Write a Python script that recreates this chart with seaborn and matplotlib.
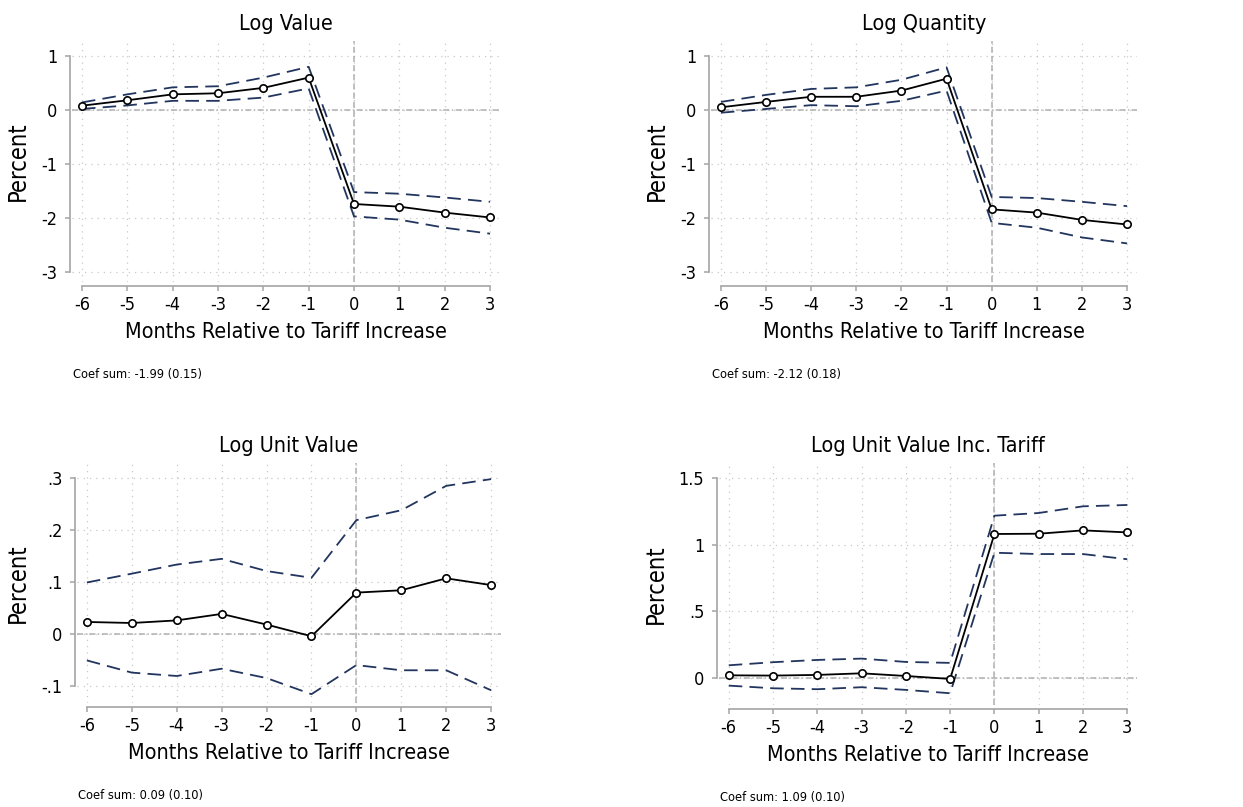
import matplotlib
matplotlib.use("Agg")
import matplotlib.pyplot as plt
import seaborn as sns

# event-study estimates
months = [-6, -5, -4, -3, -2, -1, 0, 1, 2, 3]

value_est = [0.08, 0.18, 0.29, 0.31, 0.41, 0.60, -1.74, -1.79, -1.90, -1.99]
value_hi = [0.14, 0.29, 0.42, 0.44, 0.60, 0.80, -1.52, -1.55, -1.62, -1.70]
value_lo = [0.02, 0.085, 0.17, 0.17, 0.23, 0.40, -1.97, -2.03, -2.18, -2.29]

quantity_est = [0.05, 0.15, 0.245, 0.245, 0.36, 0.58, -1.84, -1.90, -2.035, -2.12]
quantity_hi = [0.15, 0.28, 0.39, 0.42, 0.56, 0.79, -1.61, -1.63, -1.70, -1.78]
quantity_lo = [-0.05, 0.02, 0.09, 0.07, 0.17, 0.36, -2.09, -2.18, -2.36, -2.47]

unitval_est = [0.023, 0.021, 0.026, 0.0385, 0.018, -0.0045, 0.0795, 0.084, 0.107, 0.094]
unitval_hi = [0.099, 0.116, 0.1335, 0.1445, 0.121, 0.108, 0.219, 0.238, 0.285, 0.298]
unitval_lo = [-0.051, -0.0745, -0.081, -0.067, -0.085, -0.116, -0.060, -0.070, -0.070, -0.1085]

tariff_est = [0.022, 0.020, 0.025, 0.037, 0.017, -0.005, 1.079, 1.081, 1.106, 1.091]
tariff_hi = [0.097, 0.120, 0.137, 0.147, 0.122, 0.115, 1.216, 1.236, 1.286, 1.296]
tariff_lo = [-0.055, -0.075, -0.082, -0.067, -0.087, -0.112, 0.939, 0.929, 0.929, 0.890]

titles = ["Log Value", "Log Quantity", "Log Unit Value", "Log Unit Value Inc. Tariff"]
notes = ["Coef sum: -1.99 (0.15)", "Coef sum: -2.12 (0.18)",
         "Coef sum: 0.09 (0.10)", "Coef sum: 1.09 (0.10)"]
big_yticks = [1, 0, -1, -2, -3]
big_ylabels = ["1", "0", "-1", "-2", "-3"]
unit_yticks = [0.3, 0.2, 0.1, 0, -0.1]
unit_ylabels = [".3", ".2", ".1", "0", "-.1"]
tariff_yticks = [1.5, 1, 0.5, 0]
tariff_ylabels = ["1.5", "1", ".5", "0"]

sns.set_theme(style="white")
plt.rcParams["font.family"] = ["DejaVu Sans"]
plt.rcParams["font.stretch"] = "condensed"
plt.rcParams["text.color"] = "black"
plt.rcParams["axes.labelcolor"] = "black"
plt.rcParams["xtick.labelcolor"] = "black"
plt.rcParams["ytick.labelcolor"] = "black"

NAVY = "#22355e"
AXIS_GRAY = "#a4a4a4"
GRID_GRAY = "#c8c8c8"
ZERO_GRAY = "#b0b0b0"

W, H = 1243, 807
fig = plt.figure(figsize=(W / 100, H / 100), dpi=100)


def px_rect(left, right, top, bottom):
    return [left / W, 1 - bottom / H, (right - left) / W, (bottom - top) / H]


panels = [
    (titles[0], value_est, value_hi, value_lo, big_yticks, big_ylabels,
     (-3.185, 1.278), px_rect(72, 500, 41, 282), notes[0]),
    (titles[1], quantity_est, quantity_hi, quantity_lo, big_yticks, big_ylabels,
     (-3.185, 1.278), px_rect(711, 1137, 41, 282), notes[1]),
    (titles[2], unitval_est, unitval_hi, unitval_lo, unit_yticks, unit_ylabels,
     (-0.133, 0.329), px_rect(77, 501, 463, 703), notes[2]),
    (titles[3], tariff_est, tariff_hi, tariff_lo, tariff_yticks, tariff_ylabels,
     (-0.2, 1.61), px_rect(719, 1137, 463, 705), notes[3]),
]

for title, est, hi, lo, yticks, ylabels, ylim, rect, note in panels:
    ax = fig.add_axes(rect)
    ax.set_xlim(-6.22, 3.22)
    ax.set_ylim(*ylim)

    # dotted grid + zero reference lines
    ax.grid(True, color=GRID_GRAY, linestyle=(0, (1, 4)), linewidth=0.9)
    ax.set_axisbelow(True)
    ax.axhline(0, color=ZERO_GRAY, linewidth=1.1, linestyle=(0, (4, 1.6, 0.9, 1.6)), zorder=1)
    ax.axvline(0, color=ZERO_GRAY, linewidth=1.1, linestyle=(0, (4, 2)), zorder=1)

    # confidence bands and point estimates
    for band in (hi, lo):
        sns.lineplot(x=months, y=band, ax=ax, color=NAVY, linewidth=1.3,
                     linestyle=(0, (7.5, 4)), legend=False, errorbar=None, zorder=2)
    sns.lineplot(x=months, y=est, ax=ax, color="black", linewidth=1.3, marker="o",
                 markersize=5.3, markerfacecolor="white", markeredgecolor="black",
                 markeredgewidth=1.2, legend=False, errorbar=None, zorder=3)

    ax.set_xticks(months)
    ax.set_xticklabels([str(m) for m in months])
    ax.set_yticks(yticks)
    ax.set_yticklabels(ylabels)
    ax.tick_params(axis="both", direction="out", length=3.6, width=1.1,
                   color=AXIS_GRAY, labelsize=13, bottom=True, left=True)
    ax.tick_params(axis="x", pad=3.5)
    ax.tick_params(axis="y", pad=5.5)

    for side in ["top", "right"]:
        ax.spines[side].set_visible(False)
    ax.spines["left"].set_position(("outward", 1.5))
    ax.spines["left"].set_bounds(min(yticks), max(yticks))
    ax.spines["bottom"].set_position(("outward", 3))
    ax.spines["bottom"].set_bounds(months[0], months[-1])
    for side in ["left", "bottom"]:
        ax.spines[side].set_color(AXIS_GRAY)
        ax.spines[side].set_linewidth(1.2)

    ax.set_title(title, fontsize=15.5, pad=8)
    ax.set_xlabel("Months Relative to Tariff Increase", fontsize=15.5, labelpad=6)
    ax.set_ylabel("Percent", fontsize=17, labelpad=8)
    ax.annotate(note, xy=(0, 0), xycoords="axes fraction", xytext=(1, -96),
                textcoords="offset pixels", fontsize=9.2, ha="left", va="baseline")

fig.savefig("out.png", dpi=100)
